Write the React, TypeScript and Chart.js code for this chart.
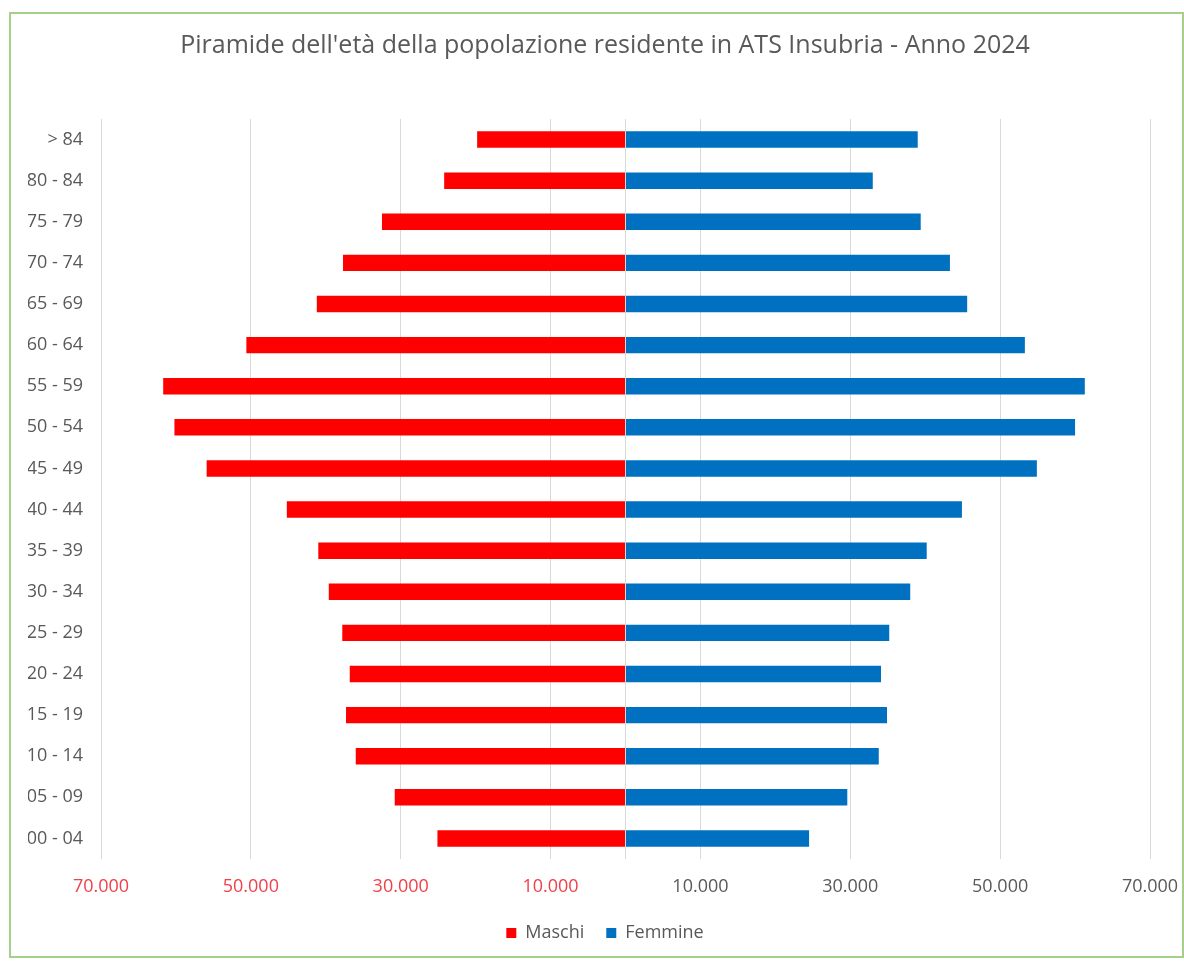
import React, { useEffect, useRef } from "react";
import { Chart, registerables } from "chart.js";

Chart.register(...registerables);

const ageGroups = [
  "> 84", "80 - 84", "75 - 79", "70 - 74", "65 - 69", "60 - 64", "55 - 59", "50 - 54", "45 - 49",
  "40 - 44", "35 - 39", "30 - 34", "25 - 29", "20 - 24", "15 - 19", "10 - 14", "05 - 09", "00 - 04",
];
const maschi = [
  19800, 24200, 32500, 37700, 41200, 50600, 61700, 60200, 55900,
  45200, 41000, 39600, 37800, 36800, 37300, 36000, 30800, 25100,
];
const femmine = [
  39000, 33000, 39400, 43300, 45600, 53300, 61300, 60000, 54900,
  44900, 40200, 38000, 35200, 34100, 34900, 33800, 29600, 24500,
];
const xTicks = [-70000, -50000, -30000, -10000, 0, 10000, 30000, 50000, 70000];

const FONT = "'Open Sans', 'Liberation Sans', sans-serif";
const GRAY = "#595959";

function fmt(v: number): string {
  return String(Math.abs(v)).replace(/\B(?=(\d{3})+(?!\d))/g, ".");
}

export default function App() {
  const ref = useRef<HTMLCanvasElement | null>(null);
  useEffect(() => {
    if (!ref.current) return;
    const chart = new Chart(ref.current, {
      type: "bar",
      data: {
        labels: ageGroups,
        datasets: [
          { label: "Maschi", data: maschi.map((v) => -v), backgroundColor: "#FF0000" },
          { label: "Femmine", data: femmine, backgroundColor: "#0070C0" },
        ],
      },
      options: {
        indexAxis: "y",
        animation: false,
        responsive: false,
        maintainAspectRatio: false,
        datasets: { bar: { categoryPercentage: 0.4, barPercentage: 1 } },
        layout: { padding: { left: 17, right: 0, top: 0, bottom: 4 } },
        scales: {
          x: {
            stacked: true,
            min: -70000,
            max: 70000,
            afterBuildTicks: (s: any) => {
              s.ticks = xTicks.map((v) => ({ value: v }));
            },
            afterFit: (s: any) => {
              s.height = 43;
              s.paddingLeft = 0;
              s.paddingRight = 32;
            },
            grid: { color: "#d9d9d9", drawTicks: false, lineWidth: 1 },
            border: { display: false },
            ticks: {
              padding: 17,
              font: { family: FONT, size: 18 },
              color: (c: any) => (c.tick && c.tick.value < 0 ? "#f0404a" : GRAY),
              callback: (v: any) => (Number(v) === 0 ? "" : fmt(Number(v))),
              maxRotation: 0,
              autoSkip: false,
            },
          },
          y: {
            stacked: true,
            afterFit: (s: any) => {
              s.width = 73;
            },
            grid: { display: false, drawTicks: false },
            border: { display: false },
            ticks: { padding: 18, font: { family: FONT, size: 18 }, color: GRAY, autoSkip: false },
          },
        },
        plugins: {
          title: {
            display: true,
            text: "Piramide dell'età della popolazione residente in ATS Insubria - Anno 2024",
            font: { family: FONT, size: 25, weight: "normal" },
            color: GRAY,
            padding: { top: 17, bottom: 58 },
          },
          legend: {
            position: "bottom",
            labels: {
              boxWidth: 10,
              boxHeight: 10,
              font: { family: FONT, size: 18 },
              color: GRAY,
              padding: 22,
            },
          },
          tooltip: { enabled: false },
        },
      },
    });
    return () => chart.destroy();
  }, []);
  return (
    <div
      style={{
        position: "absolute",
        left: 9,
        top: 12,
        width: 1175,
        height: 946,
        boxSizing: "border-box",
        border: "2px solid #a6cf8c",
        background: "#fff",
      }}
    >
      <canvas ref={ref} width={1171} height={942} style={{ display: "block" }} />
    </div>
  );
}
